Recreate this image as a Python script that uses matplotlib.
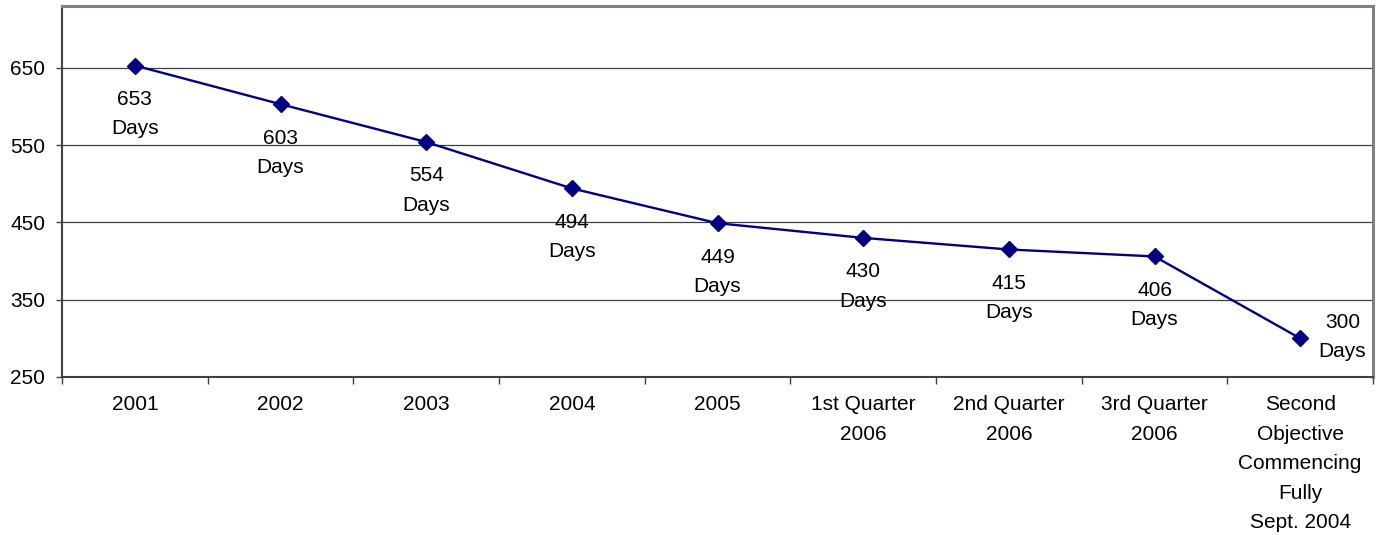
import matplotlib
matplotlib.use("Agg")
import matplotlib.pyplot as plt

plt.rcParams['font.family'] = ['Liberation Sans', 'DejaVu Sans']

# data
categories = ["2001", "2002", "2003", "2004", "2005",
              "1st Quarter\n2006", "2nd Quarter\n2006", "3rd Quarter\n2006",
              "Second\nObjective\nCommencing\nFully\nSept. 2004"]
days = [653, 603, 554, 494, 449, 430, 415, 406, 300]
y_ticks = [250, 350, 450, 550, 650]

FS = 15
LS = 1.7

fig = plt.figure(figsize=(13.78, 5.35), dpi=100)
ax = fig.add_axes([62 / 1378, 1 - 377 / 535, (1373 - 62) / 1378, (377 - 6) / 535])

x = list(range(len(categories)))
ax.plot(x, days, color="#000080", linewidth=1.7, marker="D", markersize=8.5,
        markerfacecolor="#000080", markeredgecolor="#000080", zorder=3)

# data labels: below the point, except the last one which sits to the right
for i, v in enumerate(days):
    if i == len(days) - 1:
        off = (30.5, 1)
    else:
        off = (0, -35)
    ax.annotate(f"{v}\nDays", (i, v), xytext=off, textcoords="offset points",
                ha="center", va="center", fontsize=FS, linespacing=LS,
                multialignment="center", color="black")

ax.set_xlim(-0.5, len(categories) - 0.5)
ax.set_ylim(250, 730)

ax.set_yticks(y_ticks)
ax.set_yticklabels([str(t) for t in y_ticks], fontsize=FS)
ax.tick_params(axis="y", length=4, width=1, color="#404040", pad=8)

ax.set_xticks(x)
ax.set_xticklabels(categories, fontsize=FS, linespacing=LS, va="top")
ax.tick_params(axis="x", which="major", length=0, pad=13)
ax.set_xticks([i - 0.5 for i in range(len(categories) + 1)], minor=True)
ax.tick_params(axis="x", which="minor", length=5, width=1, color="#404040")

ax.grid(axis="y", color="#404040", linewidth=0.9)
ax.set_axisbelow(True)

for side in ("left", "bottom"):
    ax.spines[side].set_color("#404040")
    ax.spines[side].set_linewidth(1.5)
for side in ("top", "right"):
    ax.spines[side].set_color("#808080")
    ax.spines[side].set_linewidth(2.2)

fig.savefig("out.png", dpi=100)
